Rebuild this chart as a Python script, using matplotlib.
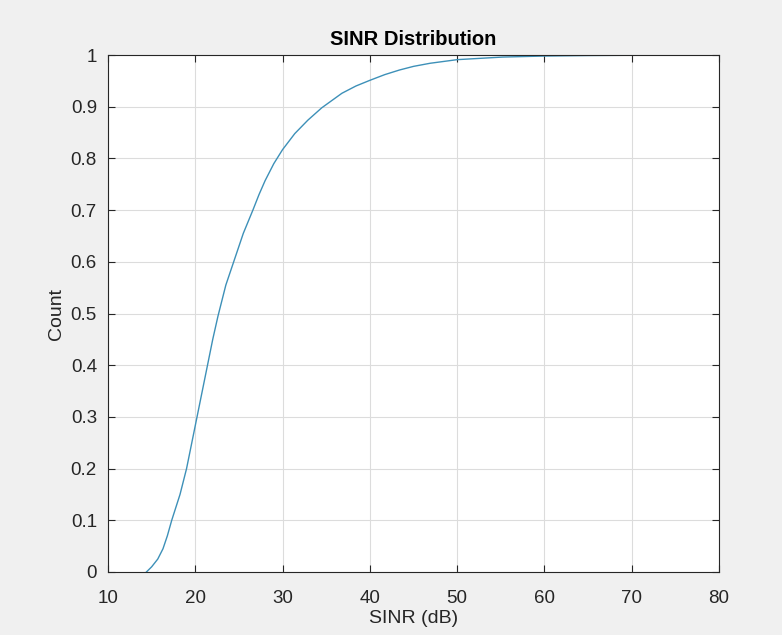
import numpy as np
import matplotlib
matplotlib.use("Agg")
import matplotlib.pyplot as plt

# CDF of SINR
sinr_db = [14.4, 15.0, 15.7, 16.3, 16.8, 17.3, 18.25, 19.0, 19.6, 20.2, 20.8,
           21.4, 22.0, 22.6, 23.5, 24.5, 25.5, 26.6, 27.3, 28.0, 29.0, 30.0,
           31.4, 32.9, 34.5, 36.8, 38.4, 40.0, 41.7, 43.4, 45.0, 46.9, 50.0,
           55.2, 60.0, 65.0, 70.0, 76.0]
cdf = [0.0, 0.01, 0.025, 0.045, 0.07, 0.10, 0.15, 0.20, 0.25, 0.30, 0.35,
       0.40, 0.45, 0.495, 0.555, 0.605, 0.655, 0.70, 0.73, 0.757, 0.79, 0.817,
       0.848, 0.874, 0.898, 0.926, 0.94, 0.951, 0.962, 0.971, 0.978, 0.984, 0.991,
       0.996, 0.998, 0.999, 0.9995, 1.0]

xticks = [10, 20, 30, 40, 50, 60, 70, 80]
yticks = [0, 0.1, 0.2, 0.3, 0.4, 0.5, 0.6, 0.7, 0.8, 0.9, 1]
ytick_labels = ['0', '0.1', '0.2', '0.3', '0.4', '0.5', '0.6', '0.7', '0.8', '0.9', '1']

plt.rcParams['font.family'] = ['Liberation Sans', 'DejaVu Sans']

fig = plt.figure(figsize=(7.82, 6.35), dpi=100, facecolor='#f0f0f0')
ax = fig.add_axes([108/782, 63/635, 611/782, 517/635])
ax.set_facecolor('white')

ax.plot(sinr_db, cdf, color='#3d90b8', linewidth=1.0)

ax.set_xlim(10, 80)
ax.set_ylim(0, 1)
ax.set_xticks(xticks)
ax.set_yticks(yticks)
ax.set_yticklabels(ytick_labels)
ax.grid(True, color='#dcdcdc', linewidth=0.8)
ax.set_axisbelow(True)

for s in ax.spines.values():
    s.set_color('#262626')
    s.set_linewidth(0.8)
ax.tick_params(direction='in', length=5, width=0.8, colors='#262626',
               top=True, right=True, labelsize=13.5)
ax.tick_params(axis='x', pad=13)
ax.tick_params(axis='y', pad=8)

ax.set_title('SINR Distribution', fontsize=14.5, fontweight='bold', color='black', pad=7)
ax.set_xlabel('SINR (dB)', fontsize=14, color='#262626', labelpad=2)
ax.set_ylabel('Count', fontsize=14, color='#262626', labelpad=4)

fig.savefig('out.png', dpi=100, facecolor=fig.get_facecolor())
